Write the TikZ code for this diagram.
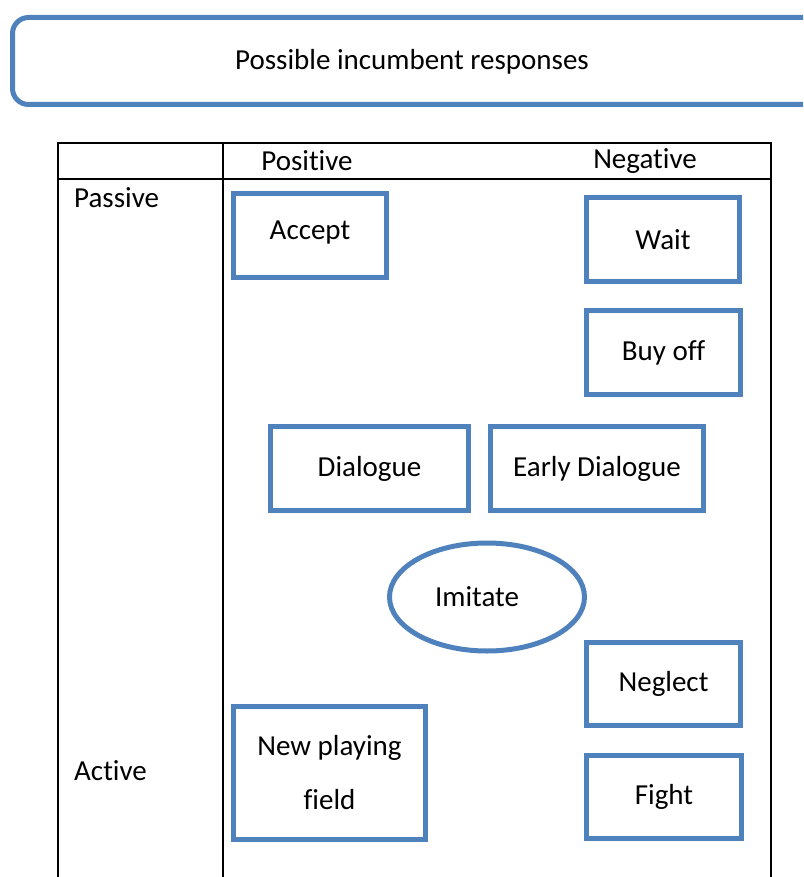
\documentclass[tikz,border=0pt]{standalone}
\usepackage{fontspec}
\setmainfont[Ligatures=NoCommon]{Carlito}
\usetikzlibrary{shapes.geometric}
\definecolor{boxblue}{HTML}{4F81BD}
\tikzset{
  box/.style={draw=boxblue, line width=5pt, rectangle, inner sep=0pt, font=\fontsize{29}{34}\selectfont, align=center},
  oval/.style={draw=boxblue, line width=5pt, ellipse, inner sep=0pt},
  txt/.style={inner sep=0pt, font=\fontsize{29}{34}\selectfont},
  grid/.style={draw=black, line width=2.2pt}
}
\begin{document}
\begin{tikzpicture}[x=1pt,y=-1pt]
\useasboundingbox (0,0) rectangle (803,877);
% title box
\begin{scope}
\clip (0,0) rectangle (803,877);
\draw[draw=boxblue, line width=5pt, rounded corners=16pt] (12.5,17.5) rectangle (830,104.5);
\end{scope}
\node[txt] (title) at (412,62) {Possible incumbent responses};
% table
\coordinate (tl) at (58,143);
\coordinate (tr) at (771,143);
\coordinate (bl) at (58,880);
\coordinate (br) at (771,880);
\coordinate (dt) at (223,143);
\coordinate (db) at (223,880);
\coordinate (hl) at (58,179);
\coordinate (hr) at (771,179);
\draw[grid] (bl) -- (tl) -- (tr) -- (br);
\draw[grid] (dt) -- (db);
\draw[grid] (hl) -- (hr);
\node[txt] (positive) at (307,161) {Positive};
\node[txt] (negative) at (645,161) {Negative};
\node[txt, anchor=west] (passive) at (74,198) {Passive};
\node[txt, anchor=west] (active) at (74,771) {Active};
% boxes
\node[box, minimum width=153pt, minimum height=84pt] (accept) at (310,235.5) {};
\node[txt] (accepttext) at (310,233) {Accept};
\node[box, minimum width=153pt, minimum height=84pt] (wait) at (663,239.5) {Wait};
\node[box, minimum width=154pt, minimum height=84pt] (buyoff) at (663.5,352.5) {Buy off};
\node[box, minimum width=198pt, minimum height=84pt] (dialogue) at (369.5,468.5) {Dialogue};
\node[box, minimum width=213pt, minimum height=84pt] (early) at (597,468.5) {Early Dialogue};
\node[oval, minimum width=195pt, minimum height=108pt] (imitate) at (487,597) {};
\node[txt] (imitatetext) at (477,597) {Imitate};
\node[box, minimum width=154pt, minimum height=83pt] (neglect) at (663.5,684) {Neglect};
\node[box, minimum width=155pt, minimum height=83pt] (fight) at (664,797) {Fight};
\node[box, minimum width=192pt, minimum height=133pt, font=\fontsize{29}{54}\selectfont] (newfield) at (329.5,773) {New playing\\field};
\end{tikzpicture}
\end{document}
